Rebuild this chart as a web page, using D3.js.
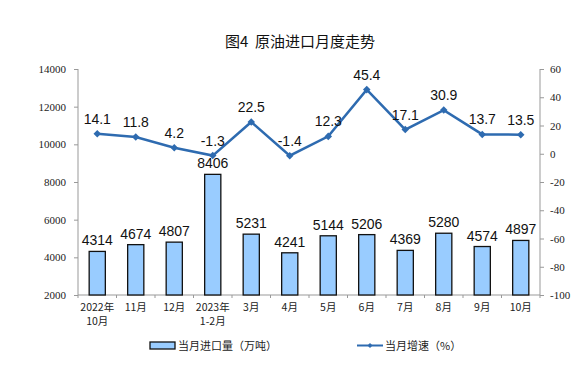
<!DOCTYPE html>
<html><head><meta charset="utf-8">
<script src="https://cdn.jsdelivr.net/npm/d3@7"></script>
<style>body{margin:0;background:#fff}</style>
</head><body>
<script>
const categories = [["2022年","10月"],["11月"],["12月"],["2023年","1-2月"],["3月"],["4月"],["5月"],["6月"],["7月"],["8月"],["9月"],["10月"]];
const volume = [4314,4674,4807,8406,5231,4241,5144,5206,4369,5280,4574,4897];
const growth = [14.1,11.8,4.2,-1.3,22.5,-1.4,12.3,45.4,17.1,30.9,13.7,13.5];
const leftTicks = [2000,4000,6000,8000,10000,12000,14000];
const rightTicks = [-100,-80,-60,-40,-20,0,20,40,60];

const W=586,H=365;
const svg=d3.select("body").append("svg").attr("width",W).attr("height",H);
const m={l:78,r:540,t:69,b:295};
const x=d3.scaleBand().domain(d3.range(categories.length)).range([m.l,m.r]).paddingInner(0.58).paddingOuter(0.29);
const xb=d3.scaleBand().domain(d3.range(categories.length)).range([m.l,m.r]);
const yL=d3.scaleLinear().domain([2000,14000]).range([m.b,m.t]);
const yR=d3.scaleLinear().domain([-100,60]).range([m.b,m.t]);
const axisColor="#999";
const tickFont="'Liberation Serif','DejaVu Serif',serif";

svg.append("text").attr("x",300).attr("y",47).attr("text-anchor","middle").attr("xml:space","preserve")
  .attr("font-family","'Noto Sans CJK SC'").attr("font-size",15).attr("font-weight","400").attr("fill","#111").text("图4\u00a0\u00a0原油进口月度走势");

// left axis
const gL=svg.append("g").attr("transform",`translate(${m.l},0)`).call(d3.axisLeft(yL).tickValues(leftTicks).tickSize(4).tickSizeOuter(0).tickPadding(8).tickFormat(d=>String(d)));
gL.selectAll("path,line").attr("stroke",axisColor);
gL.selectAll("text").attr("font-family",tickFont).attr("font-size",11).attr("fill","#222");
gL.select(".domain").attr("d",`M0,${m.t}V${m.b}`);

const gR=svg.append("g").attr("transform",`translate(${m.r},0)`).call(d3.axisRight(yR).tickValues(rightTicks).tickSize(4).tickSizeOuter(0).tickPadding(6).tickFormat(d=>String(d)));
gR.selectAll("path,line").attr("stroke",axisColor);
gR.selectAll("text").attr("font-family",tickFont).attr("font-size",11).attr("fill","#222");
gR.select(".domain").attr("d",`M0,${m.t}V${m.b}`);

// bottom axis
const gB=svg.append("g");
gB.append("line").attr("x1",m.l).attr("x2",m.r).attr("y1",m.b).attr("y2",m.b).attr("stroke",axisColor);
gB.selectAll("line.t").data(d3.range(categories.length+1)).join("line").attr("class","t")
  .attr("x1",i=>m.l+i*xb.step()).attr("x2",i=>m.l+i*xb.step()).attr("y1",m.b).attr("y2",m.b+3).attr("stroke",axisColor);
categories.forEach((c,i)=>{
  const cx=xb(i)+xb.bandwidth()/2;
  c.forEach((s,j)=>{
    gB.append("text").attr("x",cx).attr("y",m.b+16+j*14).attr("text-anchor","middle")
      .attr("font-family","'Noto Sans CJK SC'").attr("font-size",10.5).attr("fill","#222").text(s);
  });
});

// bars
svg.selectAll("rect.bar").data(volume).join("rect").attr("class","bar")
  .attr("x",(d,i)=>x(i)).attr("width",x.bandwidth())
  .attr("y",d=>yL(d)).attr("height",d=>m.b-yL(d))
  .attr("fill","#99ccff").attr("stroke","#111").attr("stroke-width",1.3);
svg.selectAll("text.bl").data(volume).join("text").attr("class","bl")
  .attr("x",(d,i)=>x(i)+x.bandwidth()/2).attr("y",d=>yL(d)-6).attr("text-anchor","middle")
  .attr("font-family","'Liberation Sans',Arial").attr("font-size",14).attr("fill","#111").text(d=>d);

// line
const lc="#2e6bb0";
const line=d3.line().x((d,i)=>xb(i)+xb.bandwidth()/2).y(d=>yR(d));
svg.append("path").datum(growth).attr("d",line).attr("fill","none").attr("stroke",lc).attr("stroke-width",2.5);
svg.selectAll("path.mk").data(growth).join("path").attr("class","mk")
  .attr("d",d3.symbol(d3.symbolDiamond2,36)).attr("transform",(d,i)=>`translate(${xb(i)+xb.bandwidth()/2},${yR(d)})`).attr("fill",lc);
svg.selectAll("text.ll").data(growth).join("text").attr("class","ll")
  .attr("x",(d,i)=>xb(i)+xb.bandwidth()/2).attr("y",d=>yR(d)-10).attr("text-anchor","middle")
  .attr("font-family","'Liberation Sans',Arial").attr("font-size",14).attr("fill","#111").text(d=>d);

// legend
const lg=svg.append("g");
lg.append("rect").attr("x",150).attr("y",342).attr("width",25).attr("height",7).attr("fill","#99ccff").attr("stroke","#111").attr("stroke-width",1.3);
lg.append("text").attr("x",178).attr("y",350).attr("font-family","'Noto Sans CJK SC'").attr("font-size",11).attr("fill","#222").text("当月进口量（万吨）");
lg.append("line").attr("x1",357).attr("x2",383).attr("y1",345.5).attr("y2",345.5).attr("stroke",lc).attr("stroke-width",2);
lg.append("path").attr("d",d3.symbol(d3.symbolDiamond2,16)).attr("transform","translate(370,345.5)").attr("fill",lc);
lg.append("text").attr("x",385).attr("y",350).attr("font-family","'Noto Sans CJK SC'").attr("font-size",11).attr("fill","#222").text("当月增速（%）");
</script>
</body></html>
